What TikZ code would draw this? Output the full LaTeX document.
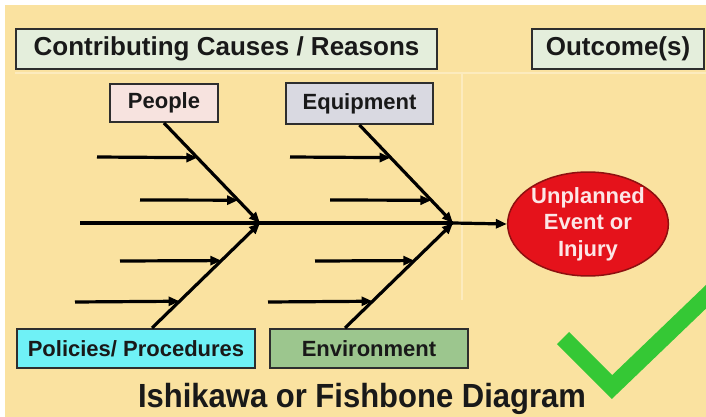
\documentclass[tikz,border=0pt]{standalone}
\usepackage{fontspec}
\setmainfont{Liberation Sans}
\usetikzlibrary{arrows.meta,calc,shapes.geometric}

\definecolor{paper}{HTML}{FAE2A0}
\definecolor{paperline}{HTML}{FCEBBE}
\definecolor{headfill}{HTML}{E4EEDC}
\definecolor{peoplefill}{HTML}{F7E3DF}
\definecolor{equipfill}{HTML}{D9D9E1}
\definecolor{policyfill}{HTML}{6FF1F6}
\definecolor{envfill}{HTML}{9CC68E}
\definecolor{eventred}{HTML}{E5121B}
\definecolor{eventedge}{HTML}{8E1010}
\definecolor{eventtext}{HTML}{FCE6E6}
\definecolor{tickgreen}{HTML}{35C835}
\definecolor{boxedge}{HTML}{2E2E2E}

\tikzset{
  labelbox/.style={draw=boxedge, line width=2pt, inner sep=0pt,
    font=\fontsize{22}{22}\selectfont\bfseries, text=black!90},
  headbox/.style={labelbox, fill=headfill, minimum height=40pt,
    font=\fontsize{26}{26}\selectfont\bfseries},
  bone/.style={line width=3.2pt, -{Triangle[length=11pt,width=9pt]}},
  rib/.style={line width=3.2pt, -{Triangle[length=11pt,width=9pt]}},
}

\begin{document}
\begin{tikzpicture}[x=1pt, y=-1pt]
  \useasboundingbox (0,0) rectangle (706,417);
  \clip (0,0) rectangle (706,417);

  % sheet background with its thin frame lines
  \fill[white] (0,0) rectangle (706,417);
  \fill[paper] (5,5) rectangle (706,417);
  \draw[paperline, line width=1.5pt] (15,73) -- (706,73);
  \draw[paperline, line width=1.5pt] (462,73) -- (462,300);

  % column headings
  \node[headbox, minimum width=421pt] (causes) at (226.5,49) {Contributing Causes / Reasons};
  \node[headbox, minimum width=172pt] (outcome) at (618,49) {Outcome(s)};

  % category boxes
  \node[labelbox, fill=peoplefill, minimum width=108pt, minimum height=38pt] (people) at (164,103) {People};
  \node[labelbox, fill=equipfill, minimum width=147pt, minimum height=41pt] (equip) at (359.5,103.5) {Equipment};
  \node[labelbox, fill=policyfill, minimum width=238pt, minimum height=39pt] (policy) at (136,348.5) {Policies/ Procedures};
  \node[labelbox, fill=envfill, minimum width=198pt, minimum height=39pt] (env) at (369,348.5) {Environment};

  % outcome
  \node[ellipse, draw=eventedge, line width=1.5pt, fill=eventred,
        minimum width=156pt, minimum height=88pt, inner sep=0pt,
        text=eventtext, align=center,
        font=\fontsize{22}{26.5}\selectfont\bfseries] (event) at (588,224)
        {Unplanned\\Event or\\Injury};

  % spine
  \coordinate (tail) at (80,223);
  \coordinate (j1) at (260,223);
  \coordinate (j2) at (453,223);
  \draw[line width=3.2pt] (tail) -- (j1) -- (j2);
  \draw[bone] (j2) -- (event.west);

  % main bones
  \coordinate (pa) at (people.south);
  \coordinate (pb) at ($(policy.north)+(16,0)$);
  \coordinate (qa) at (equip.south);
  \coordinate (qb) at ($(env.north)+(-24,0)$);
  \draw[bone] (pa) -- (j1);
  \draw[bone] (pb) -- (j1);
  \draw[bone] (qa) -- (j2);
  \draw[bone] (qb) -- (j2);

  % ribs, left group
  \coordinate (l1e) at ($(pa)!0.347!(j1)$);
  \coordinate (l2e) at ($(pa)!0.772!(j1)$);
  \coordinate (l3e) at ($(j1)!0.358!(pb)$);
  \coordinate (l4e) at ($(j1)!0.745!(pb)$);
  \coordinate (l1s) at (97,157);
  \coordinate (l2s) at (140,200);
  \coordinate (l3s) at (120,261);
  \coordinate (l4s) at (75,302);
  \draw[rib] (l1s) -- (l1e);
  \draw[rib] (l2s) -- (l2e);
  \draw[rib] (l3s) -- (l3e);
  \draw[rib] (l4s) -- (l4e);

  % ribs, right group
  \coordinate (r1e) at ($(qa)!0.333!(j2)$);
  \coordinate (r2e) at ($(qa)!0.768!(j2)$);
  \coordinate (r3e) at ($(j2)!0.358!(qb)$);
  \coordinate (r4e) at ($(j2)!0.745!(qb)$);
  \coordinate (r1s) at (290,157);
  \coordinate (r2s) at (330,200);
  \coordinate (r3s) at (315,261);
  \coordinate (r4s) at (268,302);
  \draw[rib] (r1s) -- (r1e);
  \draw[rib] (r2s) -- (r2e);
  \draw[rib] (r3s) -- (r3e);
  \draw[rib] (r4s) -- (r4e);

  % caption
  \node[font=\fontsize{31}{31}\selectfont\bfseries, text=black!90, yscale=1.08] (caption) at (362,399)
    {Ishikawa or Fishbone Diagram};

  % check mark
  \draw[tickgreen, line width=17pt, line join=miter] (563,338) -- (612,387) -- (712,291);
\end{tikzpicture}
\end{document}
